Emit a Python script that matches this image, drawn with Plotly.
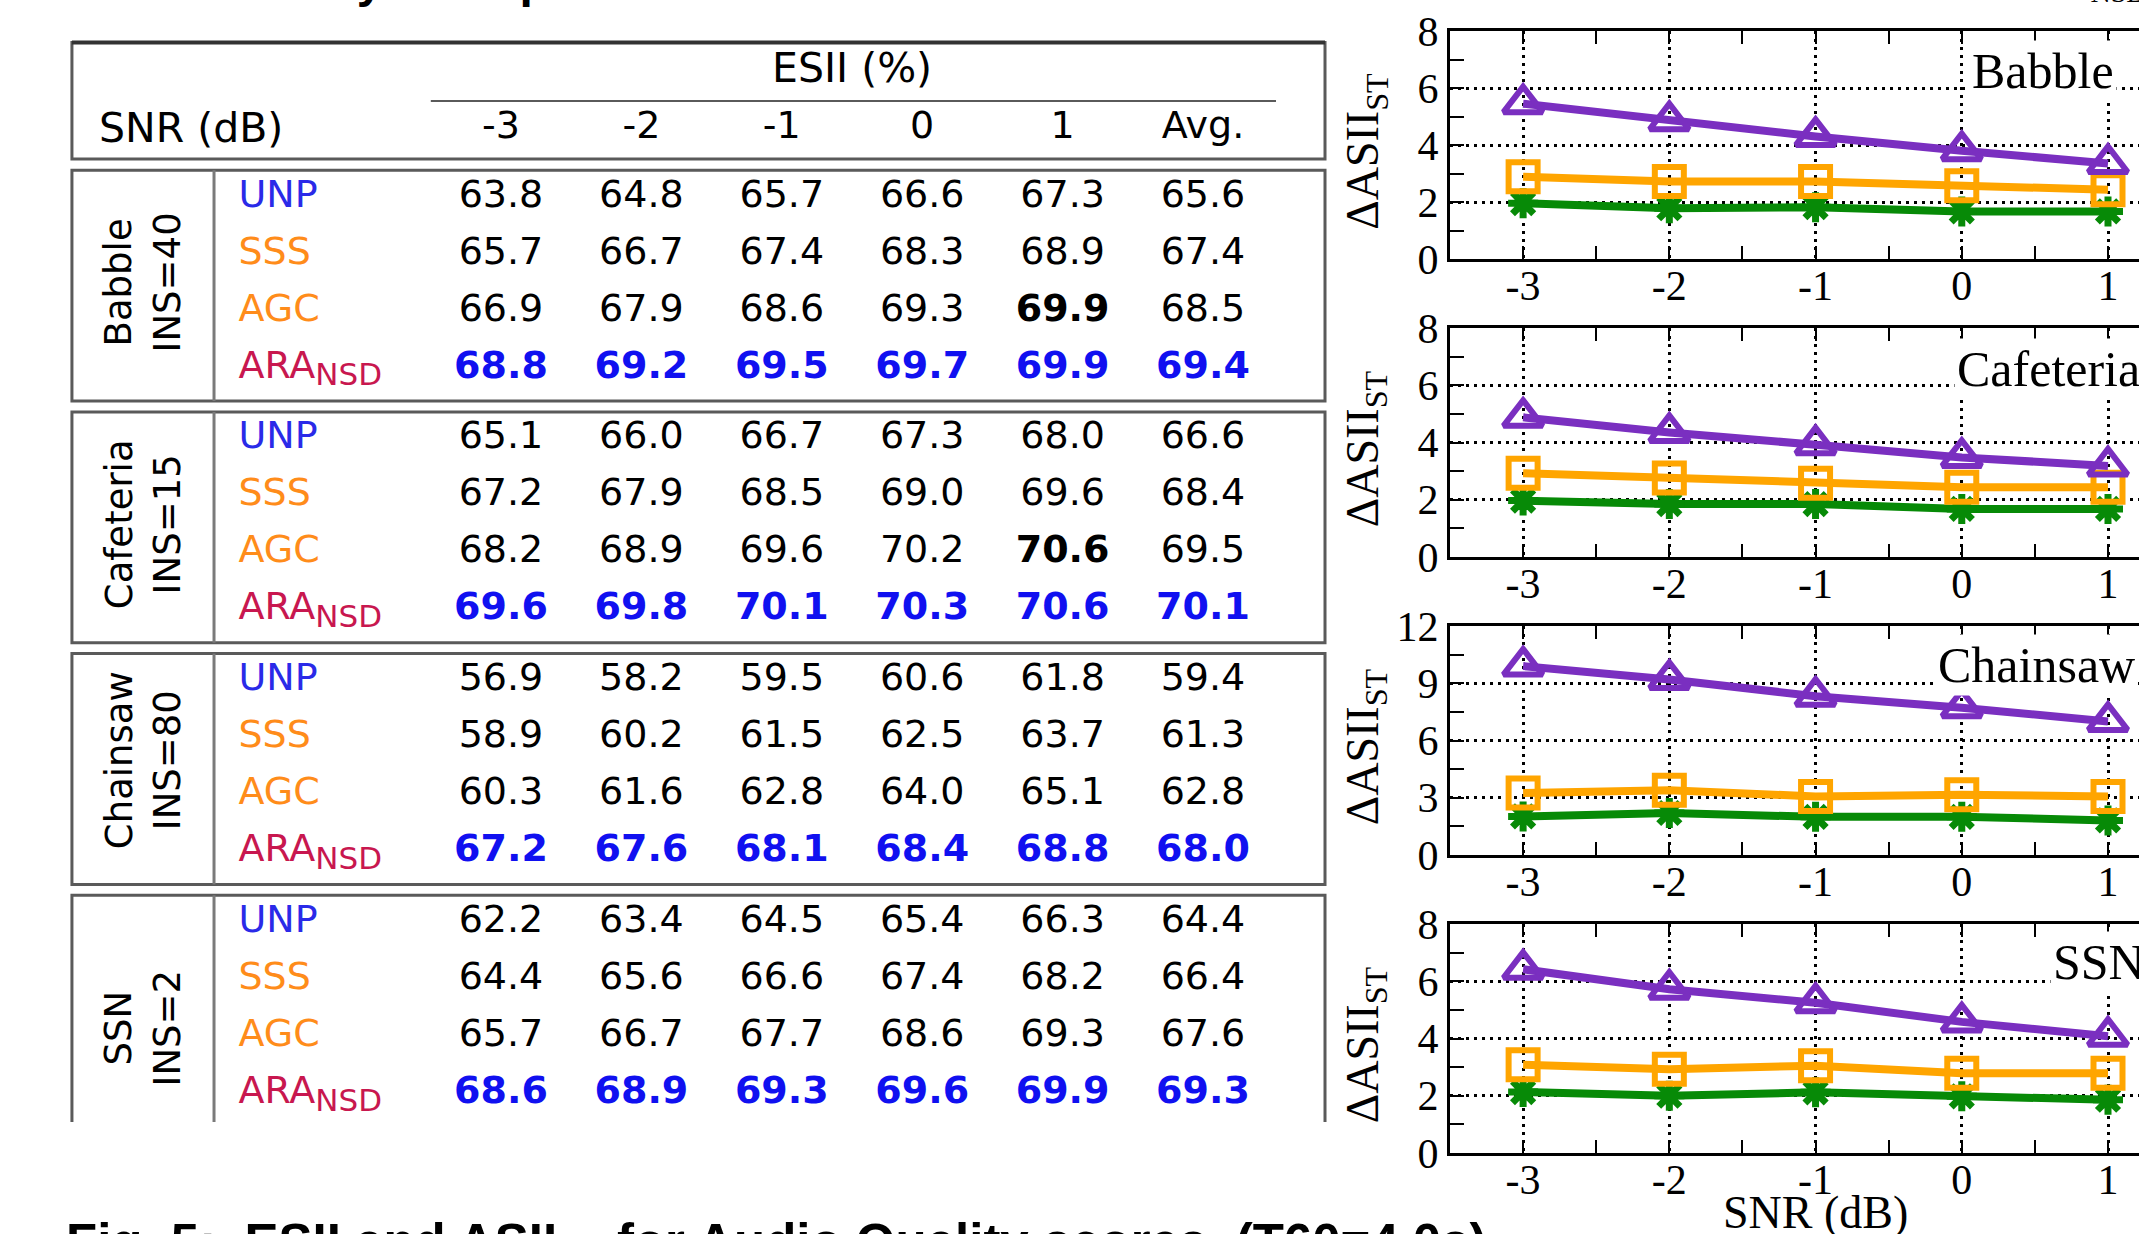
import plotly.graph_objects as go

W, H = 2139, 1234

# ---------------- data: ESII table ----------------
snr_cols = ["-3", "-2", "-1", "0", "1", "Avg."]
methods = ["UNP", "SSS", "AGC", "ARA<sub><span style='font-size:31px'>NSD</span></sub>"]
noise_types = ["Babble", "Cafeteria", "Chainsaw", "SSN"]
ins_labels = ["INS=40", "INS=15", "INS=80", "INS=2"]

esii_babble = [
    [63.8, 64.8, 65.7, 66.6, 67.3, 65.6],
    [65.7, 66.7, 67.4, 68.3, 68.9, 67.4],
    [66.9, 67.9, 68.6, 69.3, 69.9, 68.5],
    [68.8, 69.2, 69.5, 69.7, 69.9, 69.4],
]
esii_cafeteria = [
    [65.1, 66.0, 66.7, 67.3, 68.0, 66.6],
    [67.2, 67.9, 68.5, 69.0, 69.6, 68.4],
    [68.2, 68.9, 69.6, 70.2, 70.6, 69.5],
    [69.6, 69.8, 70.1, 70.3, 70.6, 70.1],
]
esii_chainsaw = [
    [56.9, 58.2, 59.5, 60.6, 61.8, 59.4],
    [58.9, 60.2, 61.5, 62.5, 63.7, 61.3],
    [60.3, 61.6, 62.8, 64.0, 65.1, 62.8],
    [67.2, 67.6, 68.1, 68.4, 68.8, 68.0],
]
esii_ssn = [
    [62.2, 63.4, 64.5, 65.4, 66.3, 64.4],
    [64.4, 65.6, 66.6, 67.4, 68.2, 66.4],
    [65.7, 66.7, 67.7, 68.6, 69.3, 67.6],
    [68.6, 68.9, 69.3, 69.6, 69.9, 69.3],
]
esii_tables = [esii_babble, esii_cafeteria, esii_chainsaw, esii_ssn]

# ---------------- data: delta ASII_ST charts ----------------
snr_db = [-3, -2, -1, 0, 1]
snr_tick_labels = ["-3", "-2", "-1", "0", "1"]

dasii_sss_babble = [1.96, 1.78, 1.82, 1.67, 1.67]
dasii_agc_babble = [2.89, 2.72, 2.72, 2.57, 2.43]
dasii_ara_babble = [5.45, 4.85, 4.3, 3.8, 3.35]

dasii_sss_cafeteria = [1.97, 1.85, 1.85, 1.68, 1.68]
dasii_agc_cafeteria = [2.93, 2.76, 2.58, 2.44, 2.44]
dasii_ara_cafeteria = [4.88, 4.35, 3.92, 3.48, 3.18]

dasii_sss_chainsaw = [2.02, 2.2, 2.0, 2.0, 1.81]
dasii_agc_chainsaw = [3.25, 3.39, 3.07, 3.16, 3.07]
dasii_ara_chainsaw = [9.9, 9.2, 8.32, 7.72, 7.0]

dasii_sss_ssn = [2.13, 2.0, 2.12, 1.98, 1.86]
dasii_agc_ssn = [3.08, 2.93, 3.05, 2.79, 2.79]
dasii_ara_ssn = [6.42, 5.72, 5.25, 4.58, 4.08]

chart_sss = [dasii_sss_babble, dasii_sss_cafeteria, dasii_sss_chainsaw, dasii_sss_ssn]
chart_agc = [dasii_agc_babble, dasii_agc_cafeteria, dasii_agc_chainsaw, dasii_agc_ssn]
chart_ara = [dasii_ara_babble, dasii_ara_cafeteria, dasii_ara_chainsaw, dasii_ara_ssn]
chart_ymax = [8, 8, 12, 8]
chart_dtick = [2, 2, 3, 2]

# ---------------- styles ----------------
TABLE_FONT = "DejaVu Sans"
CHART_FONT = "Liberation Serif"
C_UNP = "#2a2ae8"
C_ORANGE = "#ff8c1a"
C_ARA = "#c8174f"
C_BOLDBLUE = "#1010f0"
method_colors = [C_UNP, C_ORANGE, C_ORANGE, C_ARA]
C_SSS_LINE = "#078a07"
C_AGC_LINE = "#ffa500"
C_ARA_LINE = "#7a2fc0"
BORDER = "#5a5a5a"

# table geometry (pixel calibration of the cell grid)
COL_PX0, COL_PITCH = 501.0, 140.4
ROW_PX0, ROW_PITCH = 197.0, 57.0
GROUP_PITCH = 4.24
METHOD_X = -1.87
HEADER_ROW = -1.21
TITLE_ROW = -2.26
TAB_LEFT, TAB_RIGHT, SEP_X = -3.056, 5.869, -2.044
TAB_CUT = (1122 - ROW_PX0) / ROW_PITCH
label_offsets = [0.0, 0.0, -0.1, 0.35]

fig = go.Figure()

# ---- table cells ----
nx, ny, nt, nc = [], [], [], []
for g, tab in enumerate(esii_tables):
    for m, row in enumerate(tab):
        for c, v in enumerate(row):
            colmax = max(r[c] for r in tab)
            txt = f"{v:.1f}"
            if v == colmax:
                txt = f"<b>{txt}</b>"
            nx.append(c)
            ny.append(g * GROUP_PITCH + m)
            nt.append(txt)
            nc.append(C_BOLDBLUE if m == 3 else "black")
fig.add_trace(go.Scatter(x=nx, y=ny, text=nt, mode="text",
                         textfont=dict(family=TABLE_FONT, size=38, color=nc),
                         xaxis="x5", yaxis="y5", cliponaxis=False,
                         showlegend=False, hoverinfo="skip"))

mx, my, mt, mc = [], [], [], []
for g in range(len(esii_tables)):
    for m, name in enumerate(methods):
        mx.append(METHOD_X)
        my.append(g * GROUP_PITCH + m)
        mt.append(name)
        mc.append(method_colors[m])
fig.add_trace(go.Scatter(x=mx, y=my, text=mt, mode="text", textposition="middle right",
                         textfont=dict(family=TABLE_FONT, size=38, color=mc),
                         xaxis="x5", yaxis="y5", cliponaxis=False,
                         showlegend=False, hoverinfo="skip"))

fig.add_trace(go.Scatter(x=list(range(len(snr_cols))), y=[HEADER_ROW] * len(snr_cols),
                         text=snr_cols, mode="text",
                         textfont=dict(family=TABLE_FONT, size=38, color="black"),
                         xaxis="x5", yaxis="y5", cliponaxis=False,
                         showlegend=False, hoverinfo="skip"))

shapes = []
annotations = []
# header box
shapes.append(dict(type="rect", xref="x5", yref="y5", x0=TAB_LEFT, x1=TAB_RIGHT,
                   y0=-2.71, y1=-0.667, line=dict(color=BORDER, width=3)))
shapes.append(dict(type="line", xref="x5", yref="y5", x0=TAB_LEFT, x1=TAB_RIGHT,
                   y0=-2.71, y1=-2.71, line=dict(color="#333333", width=4)))
shapes.append(dict(type="line", xref="x5", yref="y5", x0=-0.5, x1=5.52,
                   y0=-1.684, y1=-1.684, line=dict(color=BORDER, width=2)))
annotations.append(dict(xref="x5", yref="y5", x=2.5, y=TITLE_ROW, text="ESII (%)",
                        showarrow=False, font=dict(family=TABLE_FONT, size=41, color="black")))
annotations.append(dict(xref="x5", yref="y5", x=-2.875, y=HEADER_ROW, text="SNR (dB)",
                        xanchor="left", showarrow=False,
                        font=dict(family=TABLE_FONT, size=41, color="black")))
for g in range(len(esii_tables)):
    top = g * GROUP_PITCH - 0.47
    bot = min(g * GROUP_PITCH + 3.58, TAB_CUT)
    if bot < g * GROUP_PITCH + 3.58:
        path = f"M {TAB_LEFT},{bot} L {TAB_LEFT},{top} L {TAB_RIGHT},{top} L {TAB_RIGHT},{bot}"
        shapes.append(dict(type="path", xref="x5", yref="y5", path=path,
                           line=dict(color=BORDER, width=3)))
    else:
        shapes.append(dict(type="rect", xref="x5", yref="y5", x0=TAB_LEFT, x1=TAB_RIGHT,
                           y0=top, y1=bot, line=dict(color=BORDER, width=3)))
    shapes.append(dict(type="line", xref="x5", yref="y5", x0=SEP_X, x1=SEP_X,
                       y0=top, y1=bot, line=dict(color="#7a7a7a", width=3)))
    annotations.append(dict(xref="x5", yref="y5", x=(TAB_LEFT + SEP_X) / 2,
                            y=g * GROUP_PITCH + 1.5 + label_offsets[g],
                            text=f"{noise_types[g]}<br>{ins_labels[g]}", textangle=-90,
                            showarrow=False,
                            font=dict(family=TABLE_FONT, size=37, color="black")))

# ---- charts ----
chart_top = [31, 328, 626, 924]
chart_bot = [259, 557, 855, 1153]
chart_left = 1450
label_x = [0.05, -0.055, -0.18, 0.6]
label_y = [6.6, 6.57, 9.96, 6.68]

layout_axes = {}
for i in range(4):
    ax = "" if i == 0 else str(i + 1)
    xa, ya = "x" + ax, "y" + ax
    fig.add_trace(go.Scatter(x=snr_db, y=chart_sss[i], mode="lines+markers",
                             line=dict(color=C_SSS_LINE, width=8),
                             marker=dict(symbol="asterisk-open", size=25,
                                         line=dict(color=C_SSS_LINE, width=7)),
                             xaxis=xa, yaxis=ya, showlegend=False, name="SSS"))
    fig.add_trace(go.Scatter(x=snr_db, y=chart_agc[i], mode="lines+markers",
                             line=dict(color=C_AGC_LINE, width=8),
                             marker=dict(symbol="square-open", size=29,
                                         line=dict(color=C_AGC_LINE, width=6)),
                             xaxis=xa, yaxis=ya, showlegend=False, name="AGC"))
    fig.add_trace(go.Scatter(x=snr_db, y=chart_ara[i], mode="lines+markers",
                             line=dict(color=C_ARA_LINE, width=8),
                             marker=dict(symbol="triangle-up-open", size=34,
                                         line=dict(color=C_ARA_LINE, width=6)),
                             xaxis=xa, yaxis=ya, showlegend=False, name="ARA_NSD"))
    ydom = [1 - chart_bot[i] / H, 1 - chart_top[i] / H]
    layout_axes["xaxis" + ax] = dict(
        domain=[chart_left / W, 1.0], range=[-3.5, 1.212], anchor=ya,
        tickmode="array", tickvals=snr_db, ticktext=snr_tick_labels,
        ticks="inside", ticklen=13, tickwidth=2, tickcolor="black",
        ticklabelstandoff=-12,
        minor=dict(dtick=0.5, tick0=0, ticks="inside", ticklen=13, tickwidth=2,
                   tickcolor="black", showgrid=False),
        showline=True, linecolor="black", linewidth=3, mirror="ticks",
        showgrid=True, gridcolor="black", gridwidth=2.5, griddash="3px,5px",
        zeroline=False, tickfont=dict(family=CHART_FONT, size=42, color="black"),
        automargin=False, fixedrange=True)
    layout_axes["yaxis" + ax] = dict(
        domain=ydom, range=[0, chart_ymax[i]], anchor=xa,
        dtick=chart_dtick[i], tick0=0,
        ticks="inside", ticklen=14, tickwidth=2, tickcolor="black",
        minor=dict(dtick=chart_dtick[i] / 2, tick0=0, ticks="inside", ticklen=14,
                   tickwidth=2, tickcolor="black", showgrid=False),
        showline=True, linecolor="black", linewidth=3, mirror=False,
        showgrid=True, gridcolor="black", gridwidth=2.5, griddash="3px,5px",
        zeroline=False, tickfont=dict(family=CHART_FONT, size=42, color="black"),
        automargin=False, fixedrange=True)
    annotations.append(dict(xref=xa, yref=ya, x=label_x[i], y=label_y[i],
                            text=noise_types[i], xanchor="left", yanchor="middle",
                            showarrow=False, bgcolor="white", borderpad=2,
                            font=dict(family=CHART_FONT, size=50, color="black")))
    annotations.append(dict(xref="paper", yref=ya + " domain", x=1366 / W, y=0.47,
                            text="ΔASII<sub>ST</sub>", textangle=-90, showarrow=False,
                            font=dict(family=CHART_FONT, size=46, color="black")))

annotations.append(dict(xref="x4", yref="paper", x=-1, y=1 - 1212 / H,
                        text="SNR (dB)", showarrow=False, yanchor="middle",
                        font=dict(family=CHART_FONT, size=46, color="black")))

# legend text of the charts, cut off at the top edge
annotations.append(dict(xref="paper", yref="paper", x=2004 / W, y=1 - 10 / H,
                        xanchor="left", yanchor="bottom", showarrow=False,
                        text="ARA<sub>NSD</sub>",
                        font=dict(family=CHART_FONT, size=40, color="black")))
# caption line above the table, cut off at the top edge
annotations.append(dict(xref="paper", yref="paper", x=8 / W, y=1 - 9 / H,
                        xanchor="left", yanchor="bottom", showarrow=False,
                        text="<b>ESII obtained by each processor</b>",
                        font=dict(family="Liberation Sans", size=48, color="black")))

# caption (cut off at the bottom of the image)
annotations.append(dict(xref="paper", yref="paper", x=64 / W, y=1 - 1212 / H,
                        xanchor="left", yanchor="top", showarrow=False,
                        text="<b>Fig. 5:  ESII and ASII<sub>ST</sub> for Audio Quality scores  (T60=4.0s)</b>",
                        font=dict(family="Liberation Sans", size=51, color="black")))

layout_axes["xaxis5"] = dict(domain=[0, 1], range=[-COL_PX0 / COL_PITCH, (W - COL_PX0) / COL_PITCH],
                             visible=False, anchor="y5", fixedrange=True, automargin=False)
layout_axes["yaxis5"] = dict(domain=[0, 1], range=[(H - ROW_PX0) / ROW_PITCH, -ROW_PX0 / ROW_PITCH],
                             visible=False, anchor="x5", fixedrange=True, automargin=False)

fig.update_layout(width=W, height=H,
                  margin=dict(l=0, r=0, t=0, b=0, pad=0, autoexpand=False),
                  paper_bgcolor="white", plot_bgcolor="rgba(0,0,0,0)", showlegend=False,
                  shapes=shapes, annotations=annotations, **layout_axes)

fig.write_html("out.html", config={"displayModeBar": False},
               post_script="document.body.style.margin='0px';")
